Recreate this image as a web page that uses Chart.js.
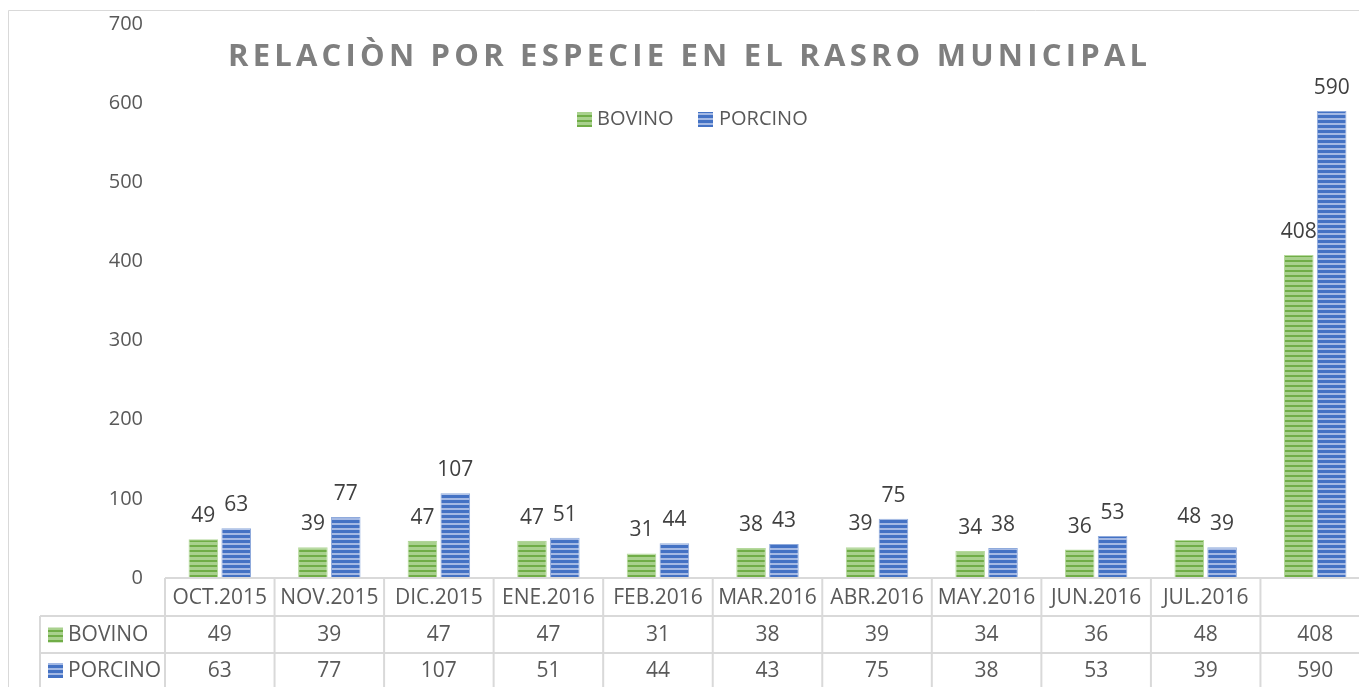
<!DOCTYPE html>
<html>
<head>
<meta charset="utf-8">
<script src="https://cdn.jsdelivr.net/npm/chart.js@4.4.1/dist/chart.umd.min.js"></script>
<style>
  html, body { margin: 0; padding: 0; background: #fff; overflow: hidden; }
  #wrap { width: 1378px; height: 687px; }
</style>
</head>
<body>
<div id="wrap"><canvas id="chart" width="1378" height="687"></canvas></div>
<script>
const categories = ['OCT.2015', 'NOV.2015', 'DIC.2015', 'ENE.2016', 'FEB.2016', 'MAR.2016',
                    'ABR.2016', 'MAY.2016', 'JUN.2016', 'JUL.2016', ''];
const bovino  = [49, 39, 47, 47, 31, 38, 39, 34, 36, 48, 408];
const porcino = [63, 77, 107, 51, 44, 43, 75, 38, 53, 39, 590];
const yTicks  = [0, 100, 200, 300, 400, 500, 600, 700];

const seriesNames = ['BOVINO', 'PORCINO'];
const titleText = 'RELACIÒN POR ESPECIE EN EL RASRO MUNICIPAL';
const FONT = '"Open Sans", "Noto Sans", sans-serif';

// striped fill like the excel bars
function stripes(dark, light, darkRows, lightRows) {
    const c = document.createElement('canvas');
    c.width = 4;
    c.height = darkRows + lightRows;
    const g = c.getContext('2d');
    g.fillStyle = light;
    g.fillRect(0, 0, 4, c.height);
    g.fillStyle = dark;
    g.fillRect(0, 0, 4, darkRows);
    return document.getElementById('chart').getContext('2d').createPattern(c, 'repeat');
}
const greenFill = stripes('#70AD47', '#A9D18E', 2, 3);
const blueFill  = stripes('#4472C4', '#A4B9E4', 3, 2);
const fills = [greenFill, blueFill];

function drawKey(ctx, x, y, size, fill) {
    ctx.save();
    ctx.fillStyle = fill;
    ctx.fillRect(x, y, size, size);
    ctx.restore();
}

const extras = {
    id: 'extras',
    beforeDraw(chart) {
        const ctx = chart.ctx;
        ctx.save();
        ctx.fillStyle = '#fff';
        ctx.fillRect(0, 0, chart.width, chart.height);
        ctx.strokeStyle = '#D9D9D9';
        ctx.lineWidth = 1;
        ctx.beginPath();
        ctx.moveTo(8.5, chart.height);
        ctx.lineTo(8.5, 10.5);
        ctx.lineTo(chart.width, 10.5);
        ctx.stroke();
        ctx.restore();
    },
    afterDatasetsDraw(chart) {
        const ctx = chart.ctx;
        const xs = chart.scales.x;
        const area = chart.chartArea;

        // value labels above bars
        ctx.save();
        ctx.font = '21px ' + FONT;
        ctx.fillStyle = '#404040';
        ctx.textAlign = 'center';
        ctx.textBaseline = 'alphabetic';
        chart.data.datasets.forEach((ds, di) => {
            chart.getDatasetMeta(di).data.forEach((bar, i) => {
                ctx.fillText(String(ds.data[i]), bar.x, bar.y - 17);
            });
        });
        ctx.restore();

        // title
        ctx.save();
        ctx.font = 'bold 31px ' + FONT;
        ctx.fillStyle = '#7F7F7F';
        ctx.textBaseline = 'alphabetic';
        const w0 = ctx.measureText(titleText).width;
        const targetW = 919;
        const sp = (targetW - w0) / (titleText.length - 1);
        ctx.letterSpacing = sp + 'px';
        ctx.textAlign = 'left';
        ctx.fillText(titleText, 228, 66);
        ctx.restore();

        // legend
        ctx.save();
        ctx.font = '20px ' + FONT;
        ctx.fillStyle = '#595959';
        ctx.textBaseline = 'middle';
        ctx.textAlign = 'left';
        drawKey(ctx, 577, 112, 15, greenFill);
        ctx.fillText(seriesNames[0], 597, 119);
        drawKey(ctx, 698, 112, 15, blueFill);
        ctx.fillText(seriesNames[1], 719, 119);
        ctx.restore();

        // data table
        const step = xs.getPixelForValue(1) - xs.getPixelForValue(0);
        const left = area.left;
        const right = xs.getPixelForValue(categories.length - 1) + step / 2;
        const y0 = area.bottom;
        const y1 = y0 + 38;
        const y2 = y1 + 37;
        const y3 = chart.height;
        ctx.save();
        ctx.strokeStyle = '#D9D9D9';
        ctx.lineWidth = 2;
        ctx.beginPath();
        ctx.moveTo(left, y0); ctx.lineTo(right, y0);
        ctx.moveTo(40, y1); ctx.lineTo(right, y1);
        ctx.moveTo(40, y2); ctx.lineTo(right, y2);
        ctx.moveTo(40, y1); ctx.lineTo(40, y3);
        for (let i = 0; i <= categories.length; i++) {
            const x = left + i * step;
            ctx.moveTo(x, y0); ctx.lineTo(x, y3);
        }
        ctx.stroke();

        ctx.font = '21px ' + FONT;
        ctx.fillStyle = '#595959';
        ctx.textBaseline = 'middle';
        ctx.textAlign = 'center';
        categories.forEach((c, i) => {
            const cx = xs.getPixelForValue(i);
            ctx.fillText(c, cx, (y0 + y1) / 2 + 1);
            ctx.fillText(String(bovino[i]), cx, (y1 + y2) / 2 + 1);
            ctx.fillText(String(porcino[i]), cx, (y2 + y3) / 2 + 1);
        });
        ctx.textAlign = 'left';
        drawKey(ctx, 48, (y1 + y2) / 2 - 7, 15, greenFill);
        ctx.fillText(seriesNames[0], 68, (y1 + y2) / 2 + 1);
        drawKey(ctx, 48, (y2 + y3) / 2 - 7, 15, blueFill);
        ctx.fillText(seriesNames[1], 68, (y2 + y3) / 2 + 1);
        ctx.restore();
    }
};

const chart = new Chart(document.getElementById('chart').getContext('2d'), {
    type: 'bar',
    data: {
        labels: categories,
        datasets: [
            {
                label: seriesNames[0],
                data: bovino,
                backgroundColor: fills[0],
                borderColor: '#B5D99C',
                borderWidth: 1,
                barPercentage: 0.9,
                categoryPercentage: 0.6
            },
            {
                label: seriesNames[1],
                data: porcino,
                backgroundColor: fills[1],
                borderColor: '#8FAADC',
                borderWidth: 1,
                barPercentage: 0.9,
                categoryPercentage: 0.6
            }
        ]
    },
    options: {
        responsive: false,
        animation: false,
        layout: {
            autoPadding: false,
            padding: { top: 24, right: 8, bottom: 109, left: 0 }
        },
        plugins: {
            legend: { display: false },
            title: { display: false },
            tooltip: { enabled: false }
        },
        scales: {
            x: {
                grid: { display: false, drawTicks: false },
                border: { display: false },
                ticks: { display: false },
                afterFit(scale) {
                    scale.height = 0;
                }
            },
            y: {
                min: yTicks[0],
                max: yTicks[yTicks.length - 1],
                afterBuildTicks(scale) {
                    scale.ticks = yTicks.map(v => ({ value: v }));
                },
                afterFit(scale) {
                    scale.width = 165;
                    scale.paddingTop = 0;
                    scale.paddingBottom = 0;
                },
                grid: { display: false, drawTicks: false },
                border: { display: false },
                ticks: {
                    padding: 22,
                    color: '#595959',
                    font: { family: FONT, size: 20 }
                }
            }
        }
    },
    plugins: [extras]
});
</script>
</body>
</html>
